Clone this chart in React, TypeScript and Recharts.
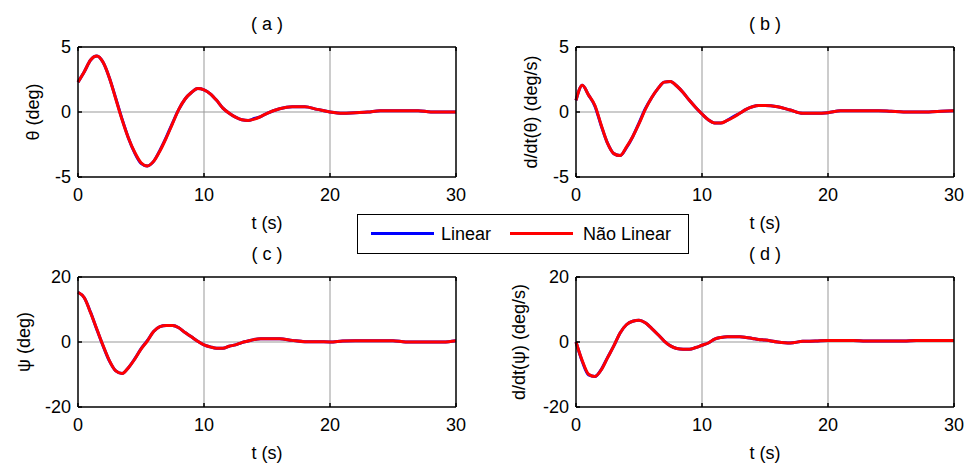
import {
	Label,
	Line,
	LineChart,
	ReferenceLine,
	XAxis,
	YAxis,
} from "recharts";

// time samples (s)
const time = [
	0, 0.5, 1, 1.5, 2, 2.5, 3, 3.5, 4, 4.5, 5, 5.5, 6, 6.5, 7, 7.5, 8, 8.5, 9, 9.5, 10,
	10.5, 11, 11.5, 12, 12.5, 13, 13.5, 14, 14.5, 15, 16, 17, 18, 19, 20, 21, 22, 23, 24,
	25, 26, 27, 28, 29, 30,
];

const thetaNl = [
	2.3, 3.1, 4.0, 4.3, 3.8, 2.6, 1.0, -0.6, -2.0, -3.1, -3.9, -4.15, -3.8, -3.0, -2.0, -0.9,
	0.2, 1.0, 1.5, 1.8, 1.7, 1.4, 0.9, 0.3, -0.1, -0.4, -0.6, -0.65, -0.55, -0.35, -0.1, 0.25,
	0.4, 0.4, 0.2, 0.0, -0.1, -0.05, 0.0, 0.1, 0.1, 0.1, 0.1, 0.0, 0.0, 0.0,
];
const thetaLin = [
	2.3, 3.1, 4.0, 4.3, 3.8, 2.6, 1.05, -0.55, -2.0, -3.15, -3.95, -4.15, -3.8, -2.95, -1.95, -0.85,
	0.2, 1.0, 1.5, 1.8, 1.7, 1.4, 0.9, 0.3, -0.1, -0.4, -0.6, -0.65, -0.5, -0.35, -0.1, 0.25,
	0.4, 0.4, 0.2, 0.0, -0.1, -0.05, 0.0, 0.1, 0.1, 0.1, 0.1, 0.0, 0.0, 0.0,
];

const dthetaNl = [
	0.9, 2.05, 1.3, 0.5, -1.0, -2.4, -3.2, -3.35, -2.7, -1.9, -0.9, 0.2, 1.1, 1.8, 2.3, 2.35,
	2.0, 1.5, 0.9, 0.35, -0.15, -0.6, -0.85, -0.85, -0.65, -0.4, -0.1, 0.2, 0.4, 0.5, 0.5, 0.4,
	0.15, -0.1, -0.1, -0.05, 0.1, 0.1, 0.1, 0.1, 0.05, 0.0, 0.0, 0.0, 0.05, 0.1,
];
const dthetaLin = [
	0.9, 2.05, 1.3, 0.45, -1.05, -2.4, -3.2, -3.35, -2.75, -1.9, -0.85, 0.25, 1.1, 1.8, 2.3, 2.35,
	2.0, 1.5, 0.9, 0.35, -0.15, -0.6, -0.85, -0.85, -0.65, -0.35, -0.1, 0.2, 0.4, 0.5, 0.5, 0.4,
	0.15, -0.1, -0.1, -0.05, 0.1, 0.1, 0.1, 0.1, 0.05, 0.0, 0.0, 0.0, 0.05, 0.1,
];

const psiNl = [
	15.3, 13.6, 9.0, 3.9, -1.2, -5.8, -8.9, -9.7, -7.9, -5.3, -2.2, 0.3, 3.2, 4.7, 5.1, 5.1,
	4.4, 2.9, 1.6, 0.2, -0.9, -1.5, -1.9, -1.9, -1.3, -0.9, -0.2, 0.3, 0.8, 1.0, 1.0, 1.0,
	0.5, 0.1, 0.1, 0.0, 0.3, 0.4, 0.4, 0.4, 0.4, 0.0, 0.0, 0.0, 0.0, 0.4,
];
const psiLin = [
	15.3, 13.6, 9.1, 3.8, -1.3, -5.9, -8.9, -9.7, -7.9, -5.2, -2.1, 0.4, 3.2, 4.7, 5.1, 5.1,
	4.4, 2.9, 1.6, 0.2, -0.9, -1.5, -1.9, -1.9, -1.3, -0.9, -0.2, 0.3, 0.8, 1.0, 1.0, 1.0,
	0.5, 0.1, 0.1, 0.0, 0.3, 0.4, 0.4, 0.4, 0.4, 0.0, 0.0, 0.0, 0.0, 0.4,
];

const dpsiNl = [
	0.0, -5.8, -9.9, -10.6, -8.6, -4.9, -1.2, 2.8, 5.3, 6.4, 6.7, 5.9, 4.2, 2.3, 0.3, -1.2,
	-2.0, -2.2, -2.2, -1.7, -1.0, -0.3, 0.9, 1.4, 1.6, 1.6, 1.6, 1.4, 1.1, 0.8, 0.6, 0.0,
	-0.3, 0.2, 0.3, 0.5, 0.5, 0.5, 0.3, 0.3, 0.3, 0.3, 0.5, 0.5, 0.5, 0.5,
];
const dpsiLin = [
	0.0, -6.0, -10.1, -10.6, -8.5, -4.8, -1.2, 2.8, 5.3, 6.4, 6.7, 5.9, 4.2, 2.3, 0.3, -1.2,
	-2.0, -2.2, -2.2, -1.7, -1.0, -0.3, 0.9, 1.4, 1.6, 1.6, 1.6, 1.4, 1.1, 0.8, 0.6, 0.0,
	-0.3, 0.2, 0.3, 0.5, 0.5, 0.5, 0.3, 0.3, 0.3, 0.3, 0.5, 0.5, 0.5, 0.5,
];

const xTicks = [0, 10, 20, 30];
const smallTicks = [-5, 0, 5];
const bigTicks = [-20, 0, 20];

const FONT = "'Liberation Sans', Arial, sans-serif";
const tickStyle = { fill: "#000", fontSize: 18, fontFamily: FONT };

interface PanelProps {
	left: number;
	top: number;
	width: number;
	title: string;
	yLabel: string;
	yLabelOffset: number;
	yTicks: number[];
	lin: number[];
	nl: number[];
}

function Panel({ left, top, width, title, yLabel, yLabelOffset, yTicks, lin, nl }: PanelProps) {
	const data = time.map((t, i) => ({ t, lin: lin[i], nl: nl[i] }));
	const domain: [number, number] = [yTicks[0], yTicks[yTicks.length - 1]];
	const plotRight = width - 12;
	return (
		<div style={{ position: "absolute", left, top, width, height: 240 }}>
			<div
				style={{
					position: "absolute",
					left: 78,
					width: plotRight - 78,
					top: 13,
					textAlign: "center",
					fontFamily: FONT,
					fontSize: 18,
					lineHeight: "22px",
					whiteSpace: "pre",
				}}
			>
				{title}
			</div>
			<LineChart
				width={width}
				height={240}
				data={data}
				margin={{ top: 37, right: 2, bottom: 3, left: 8 }}
			>
				<XAxis
					xAxisId="b"
					dataKey="t"
					type="number"
					domain={[0, 30]}
					ticks={xTicks}
					height={60}
					tickSize={-4}
					tickMargin={15}
					tick={tickStyle}
					stroke="#000"
					strokeWidth={1.5}
				>
					<Label
						value="t (s)"
						position="insideBottom"
						offset={8}
						fill="#000"
						fontSize={18}
						fontFamily={FONT}
					/>
				</XAxis>
				<XAxis
					xAxisId="t"
					orientation="top"
					dataKey="t"
					type="number"
					domain={[0, 30]}
					ticks={xTicks}
					height={10}
					tickSize={-4}
					tickFormatter={() => ""}
					stroke="#000"
					strokeWidth={1.5}
				/>
				<YAxis
					yAxisId="l"
					domain={domain}
					ticks={yTicks}
					width={70}
					tickSize={-4}
					tickMargin={11}
					tick={tickStyle}
					stroke="#000"
					strokeWidth={1.5}
				>
					<Label
						value={yLabel}
						angle={-90}
						position="insideLeft"
						offset={yLabelOffset}
						fill="#000"
						fontSize={18}
						fontFamily={FONT}
						style={{ textAnchor: "middle" }}
					/>
				</YAxis>
				<YAxis
					yAxisId="r"
					orientation="right"
					domain={domain}
					ticks={yTicks}
					width={10}
					tickSize={-4}
					tickFormatter={() => ""}
					stroke="#000"
					strokeWidth={1.5}
				/>
				<ReferenceLine xAxisId="b" yAxisId="l" x={10} stroke="#999" strokeWidth={1} />
				<ReferenceLine xAxisId="b" yAxisId="l" x={20} stroke="#999" strokeWidth={1} />
				<ReferenceLine xAxisId="b" yAxisId="l" y={0} stroke="#999" strokeWidth={1} />
				<Line
					xAxisId="b"
					yAxisId="l"
					type="monotone"
					dataKey="lin"
					stroke="#0000ff"
					strokeWidth={3}
					dot={false}
					isAnimationActive={false}
				/>
				<Line
					xAxisId="b"
					yAxisId="l"
					type="monotone"
					dataKey="nl"
					stroke="#ff0000"
					strokeWidth={3}
					dot={false}
					isAnimationActive={false}
				/>
			</LineChart>
		</div>
	);
}

export default function App() {
	return (
		<div
			style={{
				position: "absolute",
				left: 0,
				top: 0,
				width: 966,
				height: 466,
				overflow: "hidden",
				background: "#fff",
			}}
		>
			<Panel left={0} top={0} width={468} title="( a )" yLabel="θ (deg)" yLabelOffset={25} yTicks={smallTicks} lin={thetaLin} nl={thetaNl} />
			<Panel left={498} top={0} width={468} title="( b )" yLabel="d/dt(θ) (deg/s)" yLabelOffset={25} yTicks={smallTicks} lin={dthetaLin} nl={dthetaNl} />
			<Panel left={0} top={230} width={468} title="( c )" yLabel="ψ (deg)" yLabelOffset={16} yTicks={bigTicks} lin={psiLin} nl={psiNl} />
			<Panel left={498} top={230} width={468} title="( d )" yLabel="d/dt(ψ) (deg/s)" yLabelOffset={13} yTicks={bigTicks} lin={dpsiLin} nl={dpsiNl} />
			<div
				style={{
					position: "absolute",
					left: 357,
					top: 214,
					width: 332,
					height: 40,
					boxSizing: "border-box",
					border: "1px solid #000",
					background: "#fff",
					fontFamily: FONT,
					fontSize: 18,
					lineHeight: "38px",
				}}
			>
				<span style={{ position: "absolute", left: 13, top: 17, width: 63, height: 3, background: "#0000ff" }} />
				<span style={{ position: "absolute", left: 83, top: 0 }}>Linear</span>
				<span style={{ position: "absolute", left: 152, top: 17, width: 63, height: 3, background: "#ff0000" }} />
				<span style={{ position: "absolute", left: 225, top: 0 }}>Não Linear</span>
			</div>
		</div>
	);
}
